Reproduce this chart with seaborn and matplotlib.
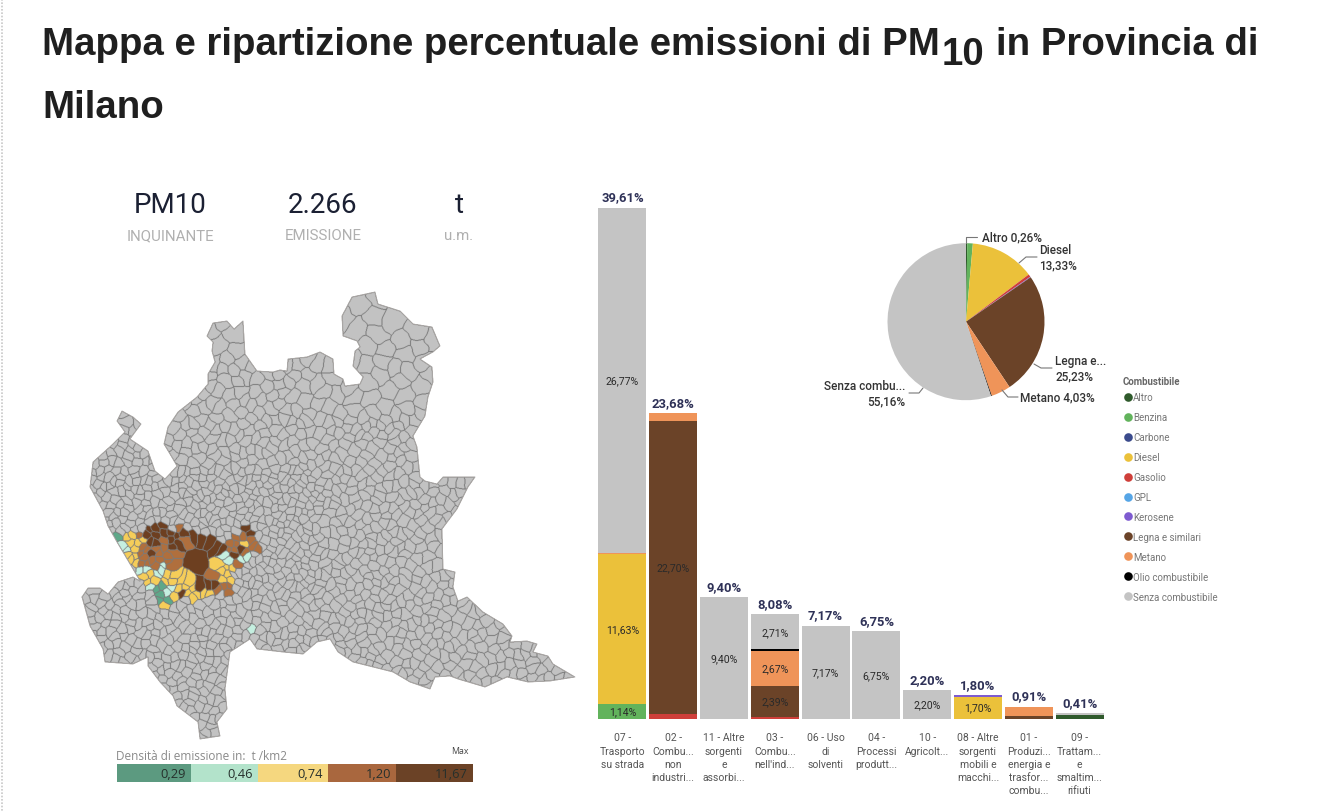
import numpy as np
import pandas as pd
import seaborn as sns
import matplotlib
matplotlib.use("Agg")
import matplotlib.pyplot as plt
from matplotlib.lines import Line2D
from matplotlib.path import Path

# ---------- data ----------
categories = ["07", "02", "11", "03", "06", "04", "10", "08", "01", "09"]
tick_labels = ["07 -\nTrasporto\nsu strada", "02 -\nCombu...\nnon\nindustri...",
               "11 - Altre\nsorgenti\ne\nassorbi...", "03 -\nCombu...\nnell'ind...",
               "06 - Uso\ndi\nsolventi", "04 -\nProcessi\nprodutt...", "10 -\nAgricolt...",
               "08 - Altre\nsorgenti\nmobili e\nmacchi...", "01 -\nProduzi...\nenergia e\ntrasfor...\ncombu...",
               "09 -\nTrattam...\ne\nsmaltim...\nrifiuti"]
totals = [39.61, 23.68, 9.40, 8.08, 7.17, 6.75, 2.20, 1.80, 0.91, 0.41]
fuels = ["Altro", "Benzina", "Carbone", "Diesel", "Gasolio", "GPL", "Kerosene",
         "Legna e similari", "Metano", "Olio combustibile", "Senza combustibile"]
fuel_colors = ["#2f5a2c", "#62b35c", "#3b4b8c", "#ebc13a", "#cf3f3a", "#56a5e6",
               "#7e5bd0", "#6b4328", "#ef9459", "#000000", "#c4c4c4"]
altro    = [0, 0, 0, 0, 0, 0, 0, 0, 0, 0.28]
benzina  = [1.14, 0, 0, 0, 0, 0, 0, 0, 0, 0]
carbone  = [0] * 10
diesel   = [11.63, 0, 0, 0, 0, 0, 0, 1.70, 0, 0]
gasolio  = [0, 0.38, 0, 0.15, 0, 0, 0, 0, 0, 0]
gpl      = [0] * 10
kerosene = [0, 0, 0, 0, 0, 0, 0, 0.10, 0, 0]
legna    = [0, 22.70, 0, 2.39, 0, 0, 0, 0, 0.16, 0]
metano   = [0.07, 0.60, 0, 2.67, 0, 0, 0, 0, 0.75, 0]
olio     = [0, 0, 0, 0.16, 0, 0, 0, 0, 0, 0]
senza    = [26.77, 0, 9.40, 2.71, 7.17, 6.75, 2.20, 0, 0, 0.13]
fuel_series = [altro, benzina, carbone, diesel, gasolio, gpl, kerosene, legna, metano, olio, senza]

pie_values = [0.26, 1.14, 0, 13.33, 0.55, 0, 0.14, 25.23, 4.03, 0.16, 55.16]

density_labels = ["0,29", "0,46", "0,74", "1,20", "11,67"]
density_colors = ["#5c9a80", "#b3e3cb", "#f5d77f", "#a9673e", "#6b4226"]
density_edges = [117, 191, 258, 328, 396, 473]

# Lombardy outline and Milan-province classes
map_outline = [(82,598),(88,589),(100,589),(108,595),(118,583),(133,578),(140,582),(133,570),(117,543),
    (108,527),(103,512),(90,488),(93,463),(113,445),(125,433),(117,422),(122,412),(133,418),(141,425),
    (130,440),(148,452),(155,472),(165,480),(177,467),(170,455),(164,445),(168,428),(178,413),(197,398),
    (208,385),(208,375),(215,363),(212,352),(213,343),(207,337),(213,324),(227,322),(234,330),(243,322),
    (245,355),(257,372),(273,373),(280,371),(287,372),(288,360),(307,358),(320,353),(333,360),(334,375),
    (343,380),(345,387),(360,385),(363,378),(353,367),(355,352),(360,348),(357,342),(343,337),(342,317),
    (352,298),(375,293),(378,305),(400,312),(413,325),(432,328),(440,347),(433,353),(420,360),(432,368),
    (433,383),(428,398),(425,417),(413,437),(417,448),(420,478),(425,482),(437,485),(443,478),(475,478),
    (468,488),(457,510),(442,530),(443,570),(455,573),(453,588),(458,602),(467,598),(483,613),(503,625),
    (512,637),(510,643),(527,642),(537,645),(533,653),(548,657),(553,665),(575,678),(550,682),(528,683),
    (507,678),(485,688),(458,680),(450,677),(435,678),(430,690),(410,683),(393,673),(353,663),(338,653),
    (330,640),(317,643),(303,655),(283,653),(257,650),(250,640),(230,653),(225,690),(227,710),(217,723),
    (220,737),(200,740),(198,723),(177,707),(173,697),(160,683),(148,667),(148,658),(133,665),(105,663),
    (103,650),(90,627)]
province = [(117,540),(130,533),(143,535),(148,530),(157,523),(160,523),(163,530),(173,532),(177,528),
    (183,528),(183,537),(202,537),(222,547),(238,537),(248,527),(253,530),(252,545),(258,552),(250,555),
    (245,567),(233,568),(232,582),(229,598),(218,595),(205,593),(195,600),(172,600),(167,608),(160,606),
    (155,595),(142,585),(138,572),(128,557),(118,548)]
yellow_west = [(117,542),(132,533),(142,540),(137,548),(140,558),(137,565),(128,557),(118,548)]
yellow_south = [(138,573),(155,570),(170,570),(177,578),(190,583),(198,593),(215,588),(217,594),(205,594),
    (195,600),(172,600),(167,608),(158,605),(155,595),(142,585)]
yellow_east = [(217,575),(223,562),(233,568),(231,582),(220,587)]
dark_core = [(171,530),(183,533),(202,535),(222,545),(225,555),(218,564),(214,577),(222,587),(230,600),
    (218,592),(205,588),(190,582),(178,574),(171,562),(171,548)]
dark_north = [(143,533),(160,523),(173,531),(172,547),(163,541),(158,552),(148,546)]
milan_city = (197, 562)
spot_x = [123,143,155,163,152,167,225,247,247, 158,158,162,118, 163,185,175,167, 237,250, 245, 150, 182, 200, 238]
spot_y = [552,572,573,568,587,589,562,560,628, 591,597,598,542, 543,543,558,560, 555,530, 545, 557, 593, 575, 548]
spot_rad = [5,5,5,5,5,5,5,6,5, 7,7,7,3, 3,4,4,3, 3,5, 5, 3, 2, 2, 3]
spot_cls = [2,2,2,2,2,2,2,2,2, 1,1,1,1, 4,4,4,4, 5,5, 3, 5, 5, 5, 5]

class_colors = ["#c2c2c2", "#5fa88a", "#c5efe0", "#f5cd5a", "#b06f3d", "#6d3f20"]

# ---------- page ----------
sns.set_theme(style="white")
plt.rcParams["font.family"] = ["Roboto", "DejaVu Sans"]
W, H = 1334, 812
fig = plt.figure(figsize=(W / 100, H / 100), dpi=100, facecolor="white")

def px_axes(x0, y0, x1, y1, **kw):
    return fig.add_axes([x0 / W, 1 - y1 / H, (x1 - x0) / W, (y1 - y0) / H], **kw)

# ---------- stacked bars ----------
base_y, top_y = 719.5, 190
scale = 12.89
ax = px_axes(597, top_y, 1105, base_y)
bottom = np.zeros(len(categories))
for name, col, vals in zip(fuels, fuel_colors, fuel_series):
    vals = np.array(vals, float)
    sns.barplot(x=categories, y=vals, bottom=bottom, color=col, width=0.945, linewidth=0,
                saturation=1, ax=ax, order=categories)
    for i, v in enumerate(vals):
        if v >= 1.1:
            ax.text(i, bottom[i] + v / 2, f"{v:.2f}".replace(".", ",") + "%", ha="center", va="center",
                    fontsize=7.6, color="#2a2a2a")
    bottom += vals
for i, t in enumerate(totals):
    ax.text(i, t + 0.35, f"{t:.2f}".replace(".", ",") + "%", ha="center", va="bottom",
            fontsize=9.4, fontweight="bold", color="#2e3157")
ax.set_xlim(-0.5, 9.5)
ax.set_ylim(0, (base_y - top_y) / scale)
ax.set_yticks([])
ax.set_xticks(range(10))
ax.set_xticklabels(tick_labels, fontsize=7.5, color="#555555", linespacing=1.4)
ax.tick_params(axis="x", length=0, pad=10)
ax.set_xlabel(""); ax.set_ylabel("")
sns.despine(ax=ax, left=True, bottom=True)
ax.patch.set_alpha(0)

# ---------- pie ----------
cx, cy, r = 966, 322.7, 78.5
axp = px_axes(cx - r, cy - r, cx + r, cy + r)
axp.pie(pie_values, colors=fuel_colors, startangle=90, counterclock=False, radius=1,
        wedgeprops={"linewidth": 0})
axp.set_xlim(-1, 1); axp.set_ylim(-1, 1)

# ---------- overlay in page pixels ----------
o = fig.add_axes([0, 0, 1, 1], zorder=5)
o.patch.set_alpha(0)
o.axis("off")

# map: cells are a nearest-seed partition of the traced outline
SS = 2
x0m, x1m, y0m, y1m = 78, 580, 288, 745
gx = x0m + (np.arange((x1m - x0m) * SS) + 0.5) / SS
gy = y0m + (np.arange((y1m - y0m) * SS) + 0.5) / SS
XX, YY = np.meshgrid(gx, gy)
outline_path = Path(map_outline + [map_outline[0]])
province_path = Path(province + [province[0]])
mask = outline_path.contains_points(np.c_[XX.ravel(), YY.ravel()]).reshape(XX.shape)

def halton(n, base):
    out = np.zeros(n)
    for i in range(n):
        f, k, v = 1.0, i + 1, 0.0
        while k:
            f /= base
            v += f * (k % base)
            k //= base
        out[i] = v
    return out

def cell_size(x, y):
    if province_path.contains_point((x, y)):
        return 4.8
    if y < 360: return 14.0
    if y < 420: return 9.0 if x < 300 else 11.0
    if x > 420: return 7.5
    if y < 470: return 6.5 if x < 175 else 7.5
    if x >= 320: return 7.0
    if y < 590: return 5.5
    return 6.5

N = 24000
hx = x0m + halton(N, 2) * (x1m - x0m)
hy = y0m + halton(N, 3) * (y1m - y0m)
ins = outline_path.contains_points(np.c_[hx, hy])
hx, hy = hx[ins], hy[ins]
seedx = np.full(8000, 1e9); seedy = np.full(8000, 1e9)
seedx[0], seedy[0] = milan_city
n_s = 1
for a, b in zip(hx, hy):
    rr = cell_size(a, b)
    if np.hypot(a - milan_city[0], b - milan_city[1]) < 25:
        continue
    if ((seedx[:n_s] - a) ** 2 + (seedy[:n_s] - b) ** 2).min() >= rr * rr:
        seedx[n_s], seedy[n_s] = a, b
        n_s += 1
sx, sy = seedx[:n_s], seedy[:n_s]

WX = XX + 1.3 * np.sin(YY / 6.3) + 0.8 * np.sin((XX + YY) / 2.7)
WY = YY + 1.3 * np.sin(XX / 5.7) + 0.8 * np.sin((XX - YY) / 3.1)
labels = np.zeros(XX.shape, dtype=np.int32)
sxf, syf = sx.astype(np.float32), sy.astype(np.float32)
for j in range(XX.shape[0]):
    if not mask[j].any():
        continue
    idx = np.where(mask[j])[0]
    d = (WX[j, idx, None].astype(np.float32) - sxf) ** 2 + (WY[j, idx, None].astype(np.float32) - syf) ** 2
    labels[j, idx] = d.argmin(axis=1)

cls = np.zeros(len(sx), dtype=int)
seed_pts = np.c_[sx, sy]
cls[province_path.contains_points(seed_pts)] = 4
for poly in (yellow_west, yellow_south, yellow_east):
    cls[Path(poly + [poly[0]]).contains_points(seed_pts)] = 3
for poly in (dark_core, dark_north):
    cls[Path(poly + [poly[0]]).contains_points(seed_pts)] = 5
cls[0] = 5
for a, b, rad, c in zip(spot_x, spot_y, spot_rad, spot_cls):
    dist = np.hypot(sx - a, sy - b)
    cls[dist <= rad] = c
    cls[np.argmin(dist)] = c

rgb = np.array([matplotlib.colors.to_rgb(c) for c in class_colors])
img = np.ones(XX.shape + (4,))
img[..., :3] = rgb[cls[labels]]
img[..., 3] = mask.astype(float)
edge = np.zeros(mask.shape, bool)
dh = labels[:, 1:] != labels[:, :-1]
dv = labels[1:, :] != labels[:-1, :]
edge[:, 1:] |= dh; edge[:, :-1] |= dh
edge[1:, :] |= dv; edge[:-1, :] |= dv
edge &= mask
img[edge, :3] = matplotlib.colors.to_rgb("#7a7a7a")
o.imshow(img, extent=(x0m, x1m, y1m, y0m), interpolation="hanning", aspect="auto", zorder=1)
ox, oy = zip(*(map_outline + [map_outline[0]]))
o.plot(ox, oy, color="#a5a5a5", lw=0.6, zorder=2)
o.set_xlim(0, W); o.set_ylim(H, 0)

# page border
o.plot([2, 2], [0, H], color="#c8c8c8", lw=1.2, ls=(0, (1, 1)), zorder=1)

# title
tkw = dict(family="Liberation Sans", fontweight="bold", fontsize=27.6, color="#1f1f1f", va="baseline")
o.text(42, 55, "Mappa e ripartizione percentuale emissioni di PM", **tkw)
o.text(942, 65, "10", **tkw)
o.text(996, 55, "in Provincia di", **tkw)
o.text(42, 118, "Milano", **tkw)

# KPI cards
for x, big, small in [(170, "PM10", "INQUINANTE"), (323, "2.266", "EMISSIONE"), (459, "t", "u.m.")]:
    o.text(x, 205.5, big, ha="center", va="center", fontsize=20, color="#1b2033")
    o.text(x, 236, small, ha="center", va="center", fontsize=10.8, color="#b0b0b0")

# density legend
for c, a, b, lab in zip(density_colors, density_edges[:-1], density_edges[1:], density_labels):
    o.barh(774, b - a, left=a, height=18, color=c, edgecolor="none", zorder=3)
    o.text(b - 5, 775, lab, ha="right", va="center", fontsize=9.3, family="Open Sans", color="#26302c", zorder=4)
o.text(116, 757, "Densità di emissione in:  t /km2", ha="left", va="center", fontsize=8.5,
       family="Open Sans", color="#8a8a8a")
o.text(469, 752, "Max", ha="right", va="center", fontsize=6.3, family="Open Sans", color="#444444")

# pie labels and leaders
pie_notes = [("Altro 0,26%", 982, 238, "left", [(966, 244), (966, 238), (977, 238)]),
             ("Diesel\n13,33%", 1039, 258.5, "left", [(1019, 264), (1026, 258), (1037, 258)]),
             ("Legna e...\n25,23%", 1055, 369, "left", [(1034, 365), (1041, 369), (1052, 369)]),
             ("Metano 4,03%", 1020.5, 398, "left", [(1002, 391), (1008, 398), (1018, 398)]),
             ("Senza combu...\n55,16%", 905, 394, "right", [(923, 389), (919, 394), (909, 394)])]
for txt, x, y, ha, line in pie_notes:
    o.text(x, y, txt, ha=ha, va="center", fontsize=8.5, fontweight="medium", color="#333333", linespacing=1.2)
    lx, ly = zip(*line)
    o.plot(lx, ly, color="#777777", lw=0.8)

# fuel legend
o.text(1123, 382, "Combustibile", ha="left", va="center", fontsize=6.9, fontweight="bold", color="#666666")
handles = [Line2D([], [], ls="", marker="o", ms=6.2, mfc=c, mec="none") for c in fuel_colors]
leg = o.legend(handles, fuels, loc="upper left", bbox_to_anchor=(1122, 393),
               bbox_transform=o.transData, frameon=False, fontsize=7.05, labelspacing=1.02,
               handletextpad=0.0, handlelength=1.15, borderpad=0, borderaxespad=0, alignment="left")
for t in leg.get_texts():
    t.set_color("#777777")

fig.savefig("out.png", dpi=100)
